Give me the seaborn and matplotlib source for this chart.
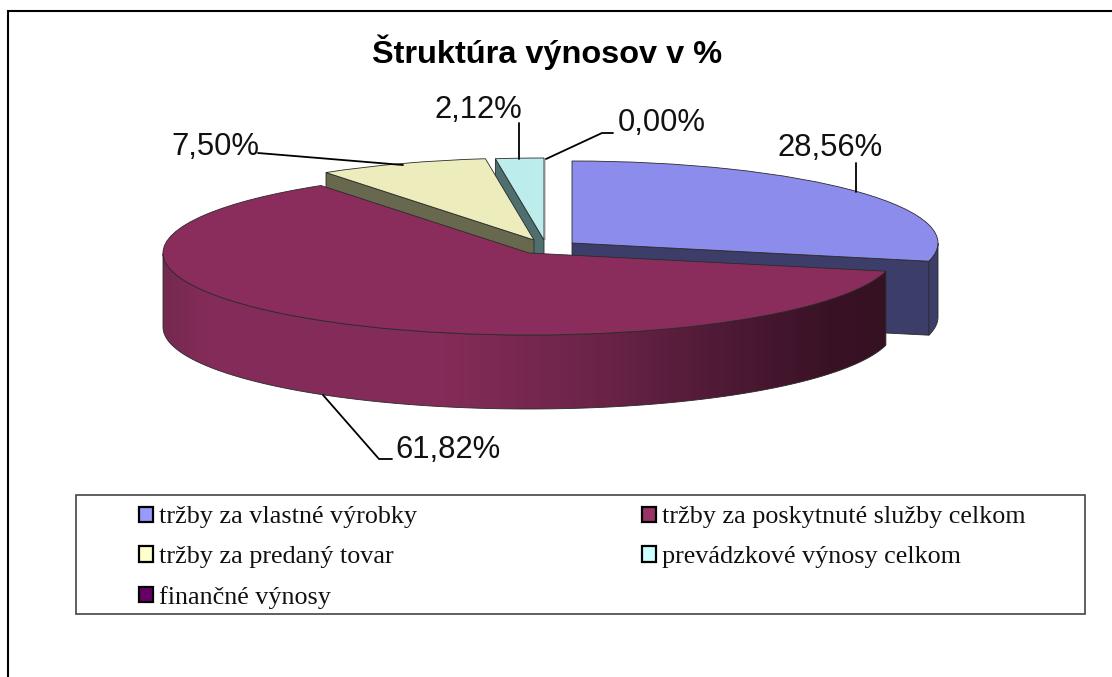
import numpy as np
import matplotlib
matplotlib.use("Agg")
import matplotlib.pyplot as plt
from matplotlib.colors import LinearSegmentedColormap
from matplotlib.patches import Patch, Polygon, Rectangle
import seaborn as sns

# ---- data ----
categories = ["tržby za vlastné výrobky", "tržby za poskytnuté služby celkom",
              "tržby za predaný tovar", "prevádzkové výnosy celkom", "finančné výnosy"]
shares = [28.56, 61.82, 7.50, 2.12, 0.00]
value_labels = ["28,56%", "61,82%", "7,50%", "2,12%", "0,00%"]
title = "Štruktúra výnosov v %"

# ---- styles ----
top_colors = ["#8C8CEC", "#8B2D5C", "#ECECBC", "#BCECEC", "#5A1A5A"]
side_colors = ["#3D3D69", "#3A1226", "#68684E", "#4F6E6E", "#3A103A"]
legend_colors = sns.color_palette(["#9999FF", "#993366", "#FFFFCC", "#CCFFFF", "#660066"])
W, H = 1112, 677
RX, RY, DEPTH = 366.0, 82.0, 74.0
centers_px = [(572, 243), (529, 253), (534, 240), (544, 240), (545, 240)]
z_base = [3, 9, 5, 1, 0]

sns.set_theme(style="white")
plt.rcParams["font.family"] = ["Liberation Sans", "DejaVu Sans"]

fig = plt.figure(figsize=(W / 100, H / 100), dpi=100, facecolor="white")
ax = fig.add_axes([0, 0, 1, 1])

# Pie axes: one data unit is one radius, so the circle becomes the ellipse on screen
wedges, _ = ax.pie(shares, startangle=90, counterclock=False, colors=top_colors, radius=1,
                   wedgeprops=dict(edgecolor="#2a2a2a", linewidth=0.6))
ax.set_aspect("auto")


def to_data(px, py):
    return px / RX, (H - py) / RY


dy = DEPTH / RY
grad = LinearSegmentedColormap.from_list(
    "side", [(0, "#75294F"), (0.06, "#842C59"), (0.38, "#852C59"), (0.58, "#6E254A"),
             (0.78, "#4E1A35"), (0.92, "#3A1226"), (1, "#361122")])

for i, w in enumerate(wedges):
    cx, cy = to_data(*centers_px[i])
    w.set_center((cx, cy))
    w.set_zorder(z_base[i] + 1)
    t1, t2 = np.radians(w.theta1), np.radians(w.theta2)
    if t1 == t2:
        w.set_edgecolor("#8a9a9a")
        continue
    side_kw = dict(closed=True, edgecolor="#2a2a2a", linewidth=0.6)
    # radial cut faces that look towards the viewer
    for t, visible in ((t1, np.cos(t1) > 1e-6), (t2, np.cos(t2) < -1e-6)):
        if visible:
            rim = (cx + np.cos(t), cy + np.sin(t))
            ax.add_patch(Polygon([(cx, cy), rim, (rim[0], rim[1] - dy), (cx, cy - dy)],
                                 facecolor=side_colors[i], zorder=z_base[i], **side_kw))
    # outer rim: the part of the arc on the near half
    ts = np.linspace(t1, t2, 500)
    ts = ts[np.sin(ts) < 0]
    if ts.size > 1:
        xs, ys = cx + np.cos(ts), cy + np.sin(ts)
        pts = np.r_[np.c_[xs, ys], np.c_[xs, ys - dy][::-1]]
        if i == 1:
            poly = Polygon(pts, closed=True, facecolor="none", edgecolor="#2a2a2a",
                           linewidth=0.6, zorder=z_base[i] + 0.5)
            ax.add_patch(poly)
            img = ax.imshow(np.linspace(0, 1, 512)[None, :], cmap=grad, aspect="auto",
                            extent=(xs.min(), xs.max(), (ys - dy).min(), ys.max()),
                            zorder=z_base[i])
            img.set_clip_path(poly)
        else:
            ax.add_patch(Polygon(pts, facecolor=side_colors[i], zorder=z_base[i], **side_kw))

ax.set_xlim(0, W / RX)
ax.set_ylim(0, H / RY)
ax.set_axis_off()

# Overlay in pixel coordinates for labels, leaders, frame and legend
ov = fig.add_axes([0, 0, 1, 1], facecolor="none")
ov.set_xlim(0, W)
ov.set_ylim(H, 0)
ov.set_axis_off()

ov.plot([7.5, 7.5, W], [H, 10.5, 10.5], color="black", lw=1.5, solid_joinstyle="miter")
ov.text(547, 52, title, ha="center", va="center", fontsize=23.4, fontweight="bold", color="black")

leaders = [([856, 856], [163, 192]),
           ([323, 379, 392], [395, 459, 459]),
           ([258, 403], [153, 165]),
           ([519, 519], [123, 159]),
           ([546, 602, 613], [159, 133, 133])]
label_pos = [(830, 148), (448, 450), (215, 147), (478, 110), (662, 123)]
for (lx, ly), (tx, ty), s in zip(leaders, label_pos, value_labels):
    ov.plot(lx, ly, color="black", lw=1.3, solid_joinstyle="miter")
    ov.text(tx, ty, s, ha="center", va="center", fontsize=22.3, color="#111111")

ov.add_patch(Rectangle((76, 495), 1009, 118.5, facecolor="white", edgecolor="#444444", lw=1.2))
handles = [Patch(facecolor=c, edgecolor="black", linewidth=1.6) for c in legend_colors]
order = [0, 2, 4, 1, 3]
fs = 18.8
ov.legend([handles[k] for k in order], [categories[k] for k in order], ncol=2,
          loc="upper left", bbox_to_anchor=(139, 506.5), bbox_transform=ov.transData,
          frameon=False, borderpad=0, borderaxespad=0, labelcolor="#111111",
          handlelength=14 / (fs / 0.72), handleheight=14 / (fs / 0.72),
          handletextpad=6 / (fs / 0.72), labelspacing=0.68, columnspacing=225 / (fs / 0.72),
          prop=dict(family="Liberation Serif", size=fs))

fig.savefig("out.png", dpi=100)
